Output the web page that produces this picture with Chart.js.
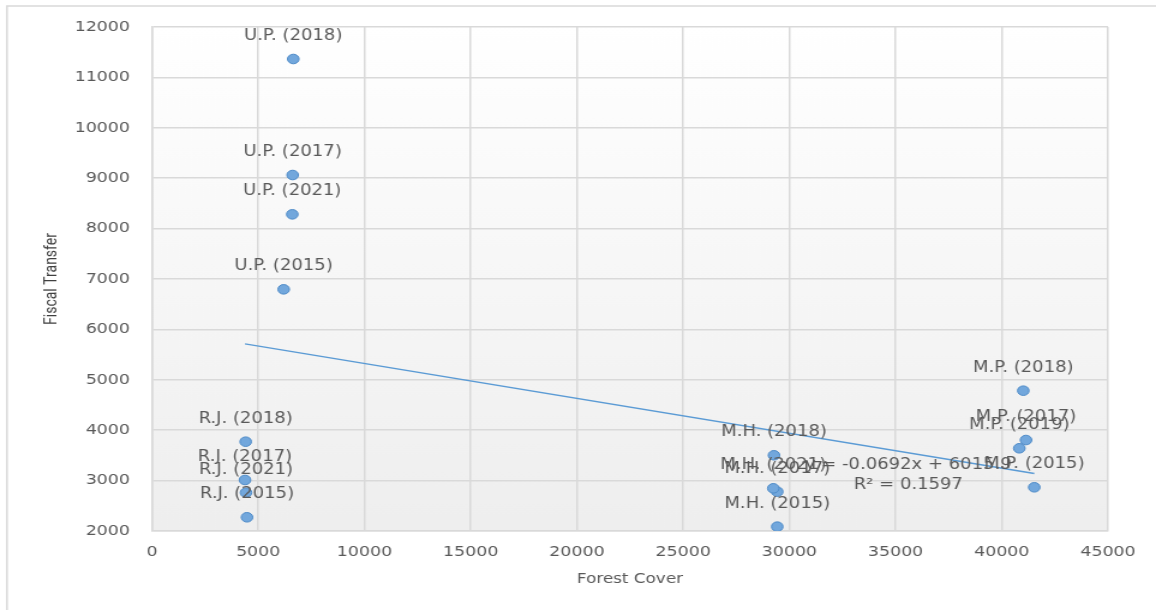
<!DOCTYPE html>
<html>
<head>
<meta charset="utf-8">
<script src="https://cdn.jsdelivr.net/npm/chart.js@4/dist/chart.umd.min.js"></script>
<style>
  html, body { margin: 0; padding: 0; background: #ffffff; }
</style>
</head>
<body>
<!-- drawn on a narrower bitmap and widened by CSS, giving the wide type and oval markers -->
<canvas id="chart" width="963" height="610" style="display:block;width:1156px;height:610px"></canvas>
<script>
// State / year of each observation
const pointNames = [
  'U.P. (2015)', 'U.P. (2017)', 'U.P. (2018)', 'U.P. (2021)',
  'R.J. (2015)', 'R.J. (2017)', 'R.J. (2018)', 'R.J. (2021)',
  'M.H. (2015)', 'M.H. (2017)', 'M.H. (2018)', 'M.H. (2021)',
  'M.P. (2015)', 'M.P. (2017)', 'M.P. (2018)', 'M.P. (2019)'
];
// Forest cover (x)
const forestCover = [
  6199, 6622, 6651, 6605,
  4472, 4378, 4410, 4425,
  29433, 29433, 29278, 29246,
  41530, 41140, 41013, 40825
];
// Fiscal transfer (y)
const fiscalTransfer = [
  6795, 9063, 11365, 8283,
  2272, 3012, 3772, 2760,
  2086, 2780, 3502, 2847,
  2867, 3805, 4784, 3641
];
// Linear trendline as stated in its label
const trendSlope = -0.0692;
const trendIntercept = 6015.9;
const trendText = ['y = -0.0692x + 6015.9', 'R\u00b2 = 0.1597'];
// Axis ranges and tick steps
const xTickRange = [0, 45000, 5000];
const yTickRange = [2000, 12000, 1000];

const GRID = '#d9d9d9';
const TEXT = '#595959';
const FONT = "'DejaVu Sans', sans-serif";

const points = forestCover.map((x, i) => ({ x: x, y: fiscalTransfer[i] }));
const xLo = Math.min(...forestCover);
const xHi = Math.max(...forestCover);
const trendPoints = [
  { x: xLo, y: trendSlope * xLo + trendIntercept },
  { x: xHi, y: trendSlope * xHi + trendIntercept }
];

// White chart frame, soft grey gradient behind the plot area
const backdrop = {
  id: 'backdrop',
  beforeDraw(chart) {
    const { ctx, chartArea: a, width, height } = chart;
    ctx.save();
    ctx.fillStyle = '#ffffff';
    ctx.fillRect(0, 0, width, height);
    const g = ctx.createLinearGradient(0, a.top, 0, a.bottom);
    g.addColorStop(0, '#ffffff');
    g.addColorStop(1, '#eeeeee');
    ctx.fillStyle = g;
    ctx.fillRect(a.left, a.top, a.right - a.left, a.bottom - a.top);
    ctx.strokeStyle = GRID;
    ctx.lineWidth = 1.5;
    ctx.strokeRect(5.8, 6, width + 40, height + 40);
    ctx.restore();
  }
};

// Name labels above each marker, plus the trendline equation
const pointLabels = {
  id: 'pointLabels',
  afterDatasetsDraw(chart) {
    const { ctx } = chart;
    const meta = chart.getDatasetMeta(0);
    ctx.save();
    ctx.font = '15px ' + FONT;
    ctx.fillStyle = TEXT;
    ctx.textAlign = 'center';
    ctx.textBaseline = 'middle';
    meta.data.forEach((el, i) => {
      ctx.fillText(pointNames[i], el.x, el.y - 23);
    });
    const sx = chart.scales.x, sy = chart.scales.y;
    const ex = sx.getPixelForValue(35600);
    const ey = sy.getPixelForValue(3310);
    ctx.fillText(trendText[0], ex, ey);
    ctx.fillText(trendText[1], ex, ey + 20);
    ctx.restore();
  }
};

new Chart(document.getElementById('chart'), {
  type: 'scatter',
  data: {
    datasets: [
      {
        label: 'Fiscal Transfer',
        data: points,
        pointRadius: 4.8,
        pointHoverRadius: 4.8,
        pointBackgroundColor: '#72a7dc',
        pointBorderColor: '#4f8cc9',
        pointBorderWidth: 1
      },
      {
        type: 'line',
        label: 'Linear trend',
        data: trendPoints,
        borderColor: '#5b9bd5',
        borderWidth: 1.5,
        pointRadius: 0,
        fill: false
      }
    ]
  },
  options: {
    responsive: false,
    animation: false,
    events: [],
    layout: { padding: { top: 27, right: 40, left: 0, bottom: 0 } },
    plugins: {
      legend: { display: false },
      tooltip: { enabled: false }
    },
    scales: {
      x: {
        type: 'linear',
        min: xTickRange[0],
        max: xTickRange[1],
        afterFit(scale) { scale.height = 79; },
        ticks: {
          stepSize: xTickRange[2],
          color: TEXT,
          padding: 13,
          font: { family: FONT, size: 14.5 },
          callback: v => String(v)
        },
        grid: { color: GRID, lineWidth: 1.5, drawTicks: false },
        border: { color: GRID, width: 1.5 },
        title: {
          display: true,
          text: 'Forest Cover',
          color: TEXT,
          font: { family: FONT, size: 14 },
          padding: { top: 0, bottom: 22.6 }
        }
      },
      y: {
        type: 'linear',
        min: yTickRange[0],
        max: yTickRange[1],
        afterFit(scale) { scale.width = 126.6; },
        ticks: {
          stepSize: yTickRange[2],
          color: TEXT,
          padding: 18.3,
          font: { family: FONT, size: 14.5 },
          callback: v => String(v)
        },
        grid: { color: GRID, lineWidth: 1.5, drawTicks: false },
        border: { color: GRID, width: 1.5 },
        title: {
          display: true,
          text: 'Fiscal Transfer',
          color: '#404040',
          font: { family: "'Liberation Sans Narrow', 'Roboto', sans-serif", size: 14 },
          padding: { top: 35, bottom: 0 }
        }
      }
    }
  },
  plugins: [backdrop, pointLabels]
});
</script>
</body>
</html>
